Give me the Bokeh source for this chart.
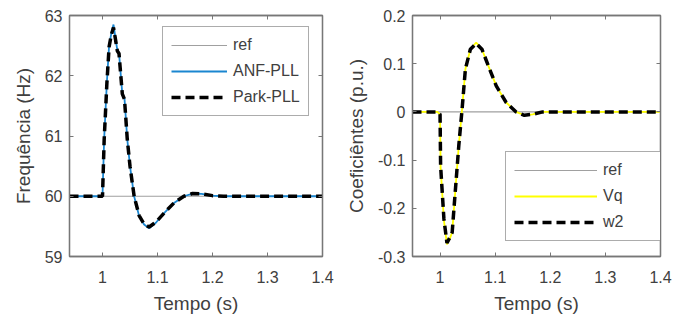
from bokeh.plotting import figure
from bokeh.layouts import row
from bokeh.models import Range1d, FixedTicker, LinearAxis, CustomJSTickFormatter
from bokeh.embed import file_html
from bokeh.resources import INLINE

# ---- data: left panel (frequency) ----
t_left = [0.94, 1.000, 1.003, 1.008, 1.012, 1.016, 1.020, 1.024, 1.027, 1.030, 1.036, 1.040,
          1.045, 1.050, 1.0575, 1.0666, 1.0756, 1.0847, 1.097, 1.112, 1.130, 1.148, 1.164,
          1.180, 1.200, 1.220, 1.40]
ref_left = [60.0] * len(t_left)
anf_pll = [60.0, 60.0, 60.95, 61.9, 62.5, 62.7, 62.85, 62.6, 62.42, 62.38, 61.70, 61.62,
           60.95, 60.5, 60.0, 59.67, 59.53, 59.47, 59.56, 59.72, 59.89, 60.0, 60.045,
           60.04, 60.01, 60.0, 60.0]
park_pll = [60.0, 60.0, 60.93, 61.88, 62.48, 62.68, 62.80, 62.58, 62.41, 62.37, 61.70, 61.61,
            60.95, 60.5, 60.0, 59.68, 59.54, 59.49, 59.57, 59.72, 59.89, 60.0, 60.045,
            60.04, 60.01, 60.0, 60.0]

# ---- data: right panel (coefficients) ----
t_right = [0.95, 0.995, 1.000, 1.001, 1.007, 1.0125, 1.018, 1.022, 1.027, 1.034, 1.040,
           1.046, 1.055, 1.0655, 1.076, 1.090, 1.102, 1.120, 1.138, 1.153, 1.168, 1.186, 1.40]
ref_right = [0.0] * len(t_right)
vq = [0.0, 0.0, -0.005, -0.115, -0.225, -0.275, -0.262, -0.25, -0.174, -0.07, 0.006,
      0.089, 0.13, 0.144, 0.13, 0.0886, 0.054, 0.0195, 0.0, -0.007, -0.005, 0.0, 0.0]
w2 = [0.0, 0.0, -0.005, -0.112, -0.222, -0.272, -0.26, -0.25, -0.174, -0.07, 0.006,
      0.089, 0.13, 0.142, 0.13, 0.0886, 0.054, 0.0195, 0.0, -0.007, -0.005, 0.0, 0.0]

x_ticks = [1.0, 1.1, 1.2, 1.3, 1.4]
y_ticks_left = [59, 60, 61, 62, 63]
y_ticks_right = [-0.3, -0.2, -0.1, 0.0, 0.1, 0.2]

FONT = "Liberation Sans"
TXT = "#404040"
AX = "#777777"
fmt = CustomJSTickFormatter(code="return (Math.round(tick*10)/10).toString();")


def style(p, xt, yt, xlabel, ylabel):
    p.xgrid.visible = False
    p.ygrid.visible = False
    p.outline_line_color = AX
    p.outline_line_width = 1.3
    p.xaxis.ticker = FixedTicker(ticks=xt)
    p.yaxis.ticker = FixedTicker(ticks=yt)
    p.xaxis.axis_label = xlabel
    p.yaxis.axis_label = ylabel
    for ax in (p.xaxis[0], p.yaxis[0]):
        ax.formatter = fmt
        ax.axis_line_color = AX
        ax.axis_line_width = 1.3
        ax.major_tick_in = 4
        ax.major_tick_out = 0
        ax.major_tick_line_color = AX
        ax.minor_tick_line_color = None
        ax.major_label_text_font = FONT
        ax.major_label_text_font_size = "16px"
        ax.major_label_text_color = TXT
        ax.axis_label_text_font = FONT
        ax.axis_label_text_font_size = "19px"
        ax.axis_label_text_font_style = "normal"
        ax.axis_label_text_color = TXT
    p.xaxis.major_label_standoff = 14
    p.yaxis.major_label_standoff = 7
    p.xaxis.axis_label_standoff = 7
    p.yaxis.axis_label_standoff = 8
    # mirrored ticks on top/right (box on), no labels
    for side, tk in (("above", xt), ("right", yt)):
        a = LinearAxis(ticker=FixedTicker(ticks=tk), major_label_text_color=None,
                       major_label_standoff=0, major_tick_in=4, major_tick_out=0,
                       major_tick_line_color=AX, minor_tick_line_color=None,
                       axis_line_color=AX, axis_line_width=1.3)
        p.add_layout(a, side)


def legend_style(p, loc, glyph_w, label_w):
    lg = p.legend[0]
    lg.location = loc
    lg.border_line_color = "#5a5a5a"
    lg.border_line_width = 1.3
    lg.background_fill_color = "white"
    lg.background_fill_alpha = 1.0
    lg.padding = 8
    lg.spacing = 6
    lg.label_height = 20
    lg.glyph_height = 20
    lg.glyph_width = glyph_w
    lg.label_width = label_w
    lg.label_standoff = 6
    lg.label_text_font = FONT
    lg.label_text_font_size = "16px"
    lg.label_text_color = TXT
    lg.label_text_baseline = "middle"


# ---- left figure ----
p1 = figure(width=342, height=321, output_backend="svg", toolbar_location=None,
            x_range=Range1d(0.94, 1.4), y_range=Range1d(59, 63),
            min_border_left=69, min_border_right=20, min_border_top=15, min_border_bottom=65)
p1.line(t_left, ref_left, color="#a0a0a0", line_width=1.2, legend_label="ref")
p1.line(t_left, anf_pll, color="#1a86d0", line_width=1.8, legend_label="ANF-PLL")
p1.line(t_left, park_pll, color="black", line_width=3.5, line_dash="9 5", legend_label="Park-PLL")
style(p1, x_ticks, y_ticks_left, "Tempo (s)", "Frequência (Hz)")
legend_style(p1, (93, 140), 56, 66)

# ---- right figure ----
p2 = figure(width=335, height=321, output_backend="svg", toolbar_location=None,
            x_range=Range1d(0.95, 1.4), y_range=Range1d(-0.3, 0.2),
            min_border_left=66, min_border_right=17, min_border_top=15, min_border_bottom=65)
p2.line(t_right, ref_right, color="#a0a0a0", line_width=1.2, legend_label="ref")
p2.line(t_right, vq, color="#ffff00", line_width=1.8, legend_label="Vq")
p2.line(t_right, w2, color="black", line_width=3.5, line_dash="9 5", legend_label="w2")
style(p2, x_ticks, y_ticks_right, "Tempo (s)", "Coeficiêntes (p.u.)")
legend_style(p2, (93, 15), 83, 49)

layout = row(p1, p2)
open("out.html", "w").write(file_html(layout, INLINE))
